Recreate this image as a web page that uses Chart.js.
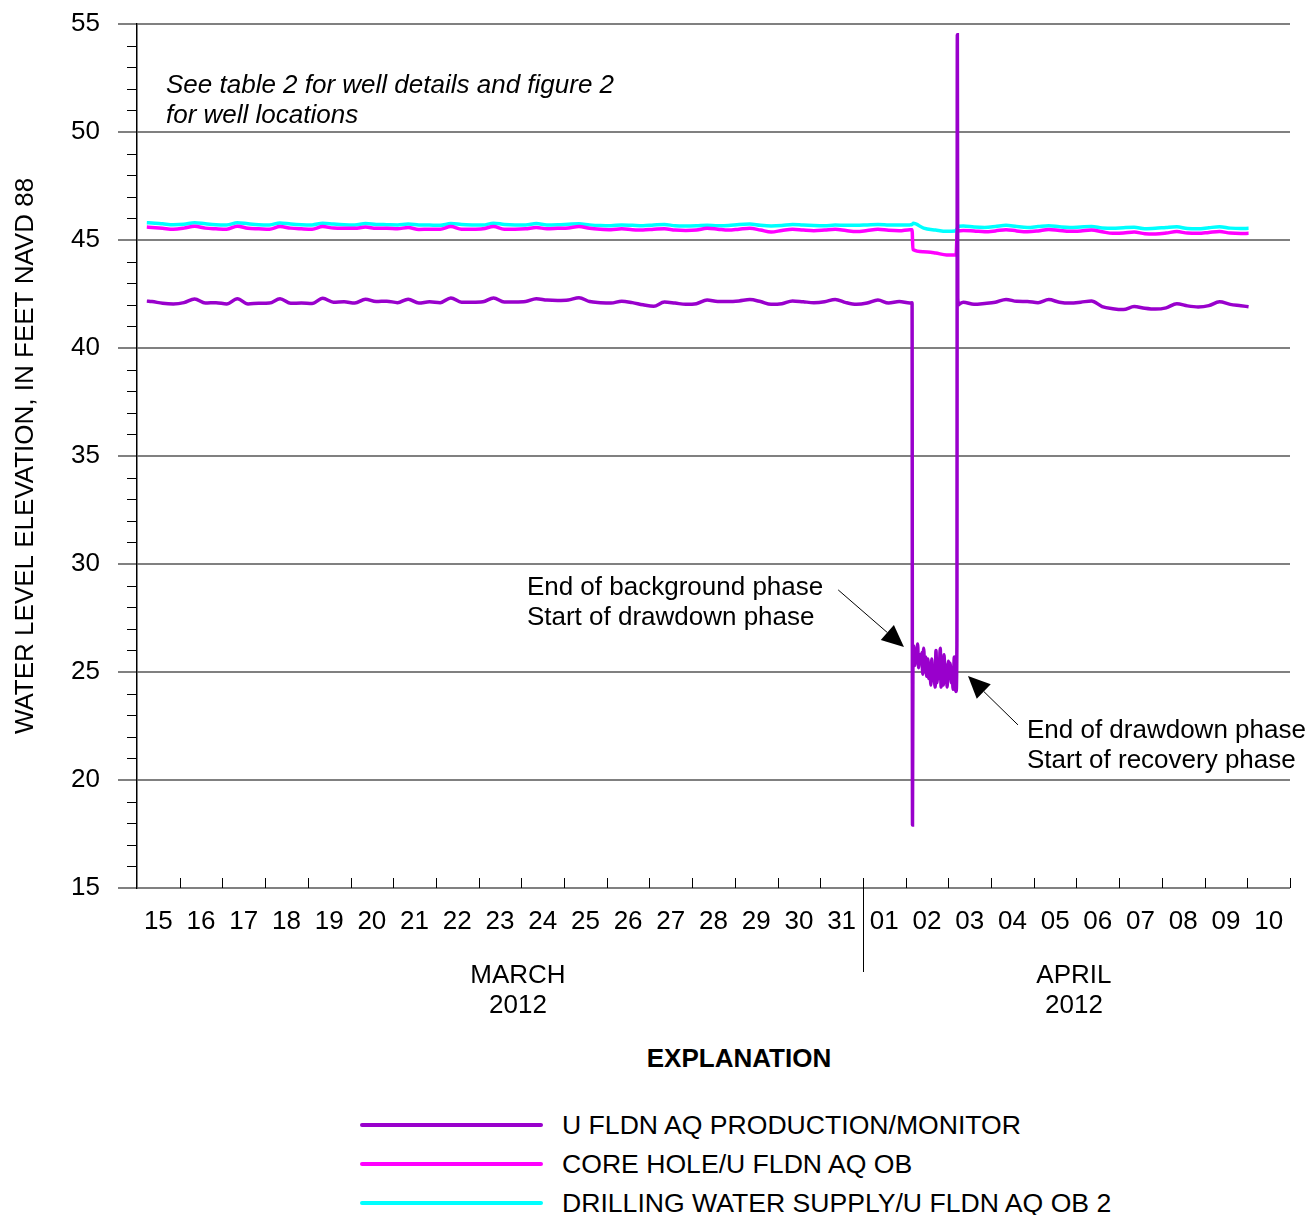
<!DOCTYPE html>
<html>
<head>
<meta charset="utf-8">
<title>Water levels, March-April 2012</title>
<script src="https://cdn.jsdelivr.net/npm/chart.js@4.4.1/dist/chart.umd.min.js"></script>
<style>
  body { margin: 0; background: #fff; font-family: "Liberation Sans", Arial, sans-serif; color: #000; }
  #page { position: relative; width: 1315px; height: 1215px; overflow: hidden; }
  #chartBox { position: absolute; left: 0; top: 0; }
  #legendTitle { position: absolute; left: 539px; width: 400px; top: 1043px; text-align: center;
                 font-weight: bold; font-size: 26px; line-height: 30px; }
  .legendRow { position: absolute; left: 360px; height: 30px; display: flex; align-items: center;
               font-size: 26.6px; white-space: nowrap; }
  .legendRow .swatch { width: 183px; height: 4px; margin-right: 19px; border-radius: 2px; }
</style>
</head>
<body>
<div id="page">
  <canvas id="chartBox" width="1315" height="1040"></canvas>
  <div id="legendTitle">EXPLANATION</div>
  <div id="legendRows"></div>
</div>
<script>
// day labels, one per day from March 15 to April 10
const xTickLabels = ['15', '16', '17', '18', '19', '20', '21', '22', '23', '24', '25', '26', '27', '28', '29', '30', '31',
                     '01', '02', '03', '04', '05', '06', '07', '08', '09', '10'];
const monthLabels = ['MARCH', 'APRIL'];
const yearLabel = '2012';

const seriesNames = ['U FLDN AQ PRODUCTION/MONITOR', 'CORE HOLE/U FLDN AQ OB', 'DRILLING WATER SUPPLY/U FLDN AQ OB 2'];
const seriesColors = ['#9900CC', '#FF00FF', '#00FFFF'];

// times are days since March 15 00:00
const preDays = [0.23, 0.35, 0.6, 0.85,
  1.1, 1.35, 1.6, 1.85, 2.1, 2.35, 2.6, 2.85, 3.1, 3.35, 3.6, 3.85, 4.1, 4.35, 4.6, 4.85,
  5.1, 5.35, 5.6, 5.85, 6.1, 6.35, 6.6, 6.85, 7.1, 7.35, 7.6, 7.85, 8.1, 8.35, 8.6, 8.85,
  9.1, 9.35, 9.6, 9.85, 10.1, 10.35, 10.6, 10.85, 11.1, 11.35, 11.6, 11.85, 12.1, 12.35, 12.6, 12.85,
  13.1, 13.35, 13.6, 13.85, 14.1, 14.35, 14.6, 14.85, 15.1, 15.35, 15.6, 15.85, 16.1, 16.35, 16.6, 16.85,
  17.1, 17.35, 17.6, 17.85, 18.1];
const postDays = [19.35, 19.6, 19.85, 20.1, 20.35, 20.6, 20.85, 21.1, 21.35, 21.6, 21.85,
  22.1, 22.35, 22.6, 22.85, 23.1, 23.35, 23.6, 23.85, 24.1, 24.35, 24.6, 24.85,
  25.1, 25.35, 25.6, 25.85, 26.03];

// U FLDN AQ PRODUCTION/MONITOR
const prodPre = [42.17, 42.15, 42.07, 42.04,
  42.10, 42.27, 42.08, 42.10, 42.04, 42.28, 42.04, 42.07, 42.08, 42.28, 42.07, 42.08, 42.06, 42.30, 42.12, 42.14,
  42.08, 42.26, 42.15, 42.17, 42.10, 42.26, 42.08, 42.14, 42.10, 42.32, 42.12, 42.12, 42.14, 42.32, 42.13, 42.13,
  42.15, 42.28, 42.22, 42.20, 42.22, 42.33, 42.15, 42.10, 42.08, 42.17, 42.10, 42.00, 41.93, 42.13, 42.08, 42.02,
  42.05, 42.22, 42.15, 42.15, 42.18, 42.24, 42.15, 42.02, 42.05, 42.18, 42.14, 42.10, 42.14, 42.25, 42.10, 42.02,
  42.08, 42.22, 42.08, 42.15, 42.08];
const prodPumpDays = [18.15, 18.16, 18.17, 18.19, 18.21, 18.23, 18.26, 18.28, 18.3, 18.33, 18.35, 18.38,
  18.4, 18.42, 18.45, 18.47, 18.49, 18.52, 18.54, 18.57, 18.59, 18.61, 18.64, 18.66, 18.69,
  18.71, 18.73, 18.76, 18.78, 18.81, 18.83, 18.85, 18.88, 18.9, 18.92, 18.95, 18.97,
  19.0, 19.02, 19.04, 19.07, 19.09, 19.11, 19.14, 19.16, 19.18, 19.2, 19.21, 19.22, 19.24, 19.27];
const prodPump = [42.10, 17.92, 25.6, 26.2, 25.3, 26.0, 25.5, 26.3, 25.2, 25.8, 25.4, 25.9,
  24.9, 26.1, 25.0, 25.7, 24.8, 25.6, 24.7, 25.3, 24.4, 25.6, 24.6, 25.2, 24.3,
  26.0, 24.5, 25.2, 24.7, 26.1, 24.3, 25.0, 24.4, 25.8, 24.6, 25.3, 24.3,
  25.5, 24.8, 25.4, 24.5, 25.1, 24.2, 25.7, 24.5, 24.1, 26.3, 54.5, 42.3, 42.0, 42.05];
const prodPost = [42.12, 42.02, 42.06, 42.12, 42.25, 42.16, 42.15, 42.10, 42.24, 42.12, 42.08,
  42.12, 42.18, 41.92, 41.82, 41.78, 41.92, 41.84, 41.80, 41.86, 42.05, 41.95, 41.90,
  41.96, 42.14, 42.02, 41.96, 41.91];

// CORE HOLE/U FLDN AQ OB
const corePre = [45.60, 45.58, 45.54, 45.50,
  45.55, 45.64, 45.55, 45.52, 45.50, 45.64, 45.54, 45.52, 45.50, 45.62, 45.55, 45.52, 45.50, 45.62, 45.55, 45.54,
  45.54, 45.60, 45.54, 45.54, 45.52, 45.58, 45.49, 45.50, 45.50, 45.62, 45.50, 45.50, 45.52, 45.62, 45.50, 45.50,
  45.52, 45.58, 45.52, 45.54, 45.56, 45.62, 45.54, 45.50, 45.48, 45.52, 45.48, 45.46, 45.50, 45.52, 45.46, 45.44,
  45.46, 45.54, 45.50, 45.46, 45.50, 45.54, 45.46, 45.37, 45.44, 45.50, 45.46, 45.43, 45.46, 45.50, 45.44, 45.39,
  45.44, 45.50, 45.45, 45.43, 45.48];
const corePumpDays = [18.15, 18.17, 18.41, 18.7, 18.96, 19.18, 19.21];
const corePump = [45.48, 44.56, 44.46, 44.40, 44.31, 44.31, 45.42];
const corePost = [45.44, 45.42, 45.38, 45.42, 45.48, 45.42, 45.38, 45.42, 45.49, 45.44, 45.40,
  45.42, 45.46, 45.38, 45.31, 45.32, 45.37, 45.29, 45.28, 45.32, 45.39, 45.32, 45.31,
  45.35, 45.39, 45.32, 45.30, 45.31];

// DRILLING WATER SUPPLY/U FLDN AQ OB 2
const supplyPre = [45.80, 45.79, 45.75, 45.71,
  45.73, 45.80, 45.75, 45.71, 45.70, 45.80, 45.75, 45.71, 45.70, 45.79, 45.74, 45.71, 45.70, 45.78, 45.74, 45.71,
  45.70, 45.76, 45.72, 45.71, 45.70, 45.74, 45.70, 45.69, 45.68, 45.76, 45.72, 45.70, 45.69, 45.78, 45.72, 45.70,
  45.70, 45.76, 45.70, 45.71, 45.73, 45.75, 45.70, 45.67, 45.66, 45.70, 45.68, 45.66, 45.70, 45.72, 45.66, 45.65,
  45.66, 45.68, 45.66, 45.67, 45.72, 45.74, 45.68, 45.65, 45.67, 45.72, 45.69, 45.67, 45.66, 45.69, 45.68, 45.68,
  45.70, 45.72, 45.70, 45.69, 45.70];
const supplyPumpDays = [18.15, 18.18, 18.42, 18.7, 18.96, 19.16, 19.25];
const supplyPump = [45.72, 45.77, 45.55, 45.46, 45.40, 45.42, 45.64];
const supplyPost = [45.65, 45.60, 45.58, 45.62, 45.68, 45.62, 45.58, 45.62, 45.66, 45.61, 45.58,
  45.60, 45.62, 45.56, 45.54, 45.57, 45.59, 45.52, 45.54, 45.58, 45.61, 45.53, 45.52,
  45.57, 45.61, 45.55, 45.53, 45.54];

function toPoints(days, values) {
  return days.map((d, i) => ({ x: d, y: values[i] }));
}

function series(pre, pumpDays, pump, post) {
  return toPoints(preDays, pre).concat(toPoints(pumpDays, pump), toPoints(postDays, post));
}

const allSeries = [
  series(prodPre, prodPumpDays, prodPump, prodPost),
  series(corePre, corePumpDays, corePump, corePost),
  series(supplyPre, supplyPumpDays, supplyPump, supplyPost)
];

const FONT = '"Liberation Sans", Arial, sans-serif';
Chart.defaults.font.family = FONT;
Chart.defaults.color = '#000';

function drawArrow(ctx, x1, y1, x2, y2) {
  const ang = Math.atan2(y2 - y1, x2 - x1);
  const len = 22, half = 10;
  const bx = x2 - len * Math.cos(ang);
  const by = y2 - len * Math.sin(ang);
  ctx.beginPath();
  ctx.moveTo(x1, y1);
  ctx.lineTo(bx, by);
  ctx.lineWidth = 1;
  ctx.stroke();
  ctx.beginPath();
  ctx.moveTo(x2, y2);
  ctx.lineTo(bx - half * Math.sin(ang), by + half * Math.cos(ang));
  ctx.lineTo(bx + half * Math.sin(ang), by - half * Math.cos(ang));
  ctx.closePath();
  ctx.fill();
}

// minor ticks, day ticks, month labels and the notes
const decorations = {
  id: 'decorations',
  afterDraw(chart) {
    const { ctx, chartArea: area, scales } = chart;
    const px = d => scales.x.getPixelForValue(d);
    const py = v => scales.y.getPixelForValue(v);
    ctx.save();
    ctx.strokeStyle = '#000';
    ctx.fillStyle = '#000';
    ctx.lineWidth = 1;
    ctx.beginPath();
    for (let v = 16; v < 55; v++) {
      if (v % 5 === 0) continue;
      const y = Math.round(py(v)) + 0.5;
      ctx.moveTo(area.left - 10, y);
      ctx.lineTo(area.left, y);
    }
    for (let d = 1; d <= 27; d++) {
      const x = Math.round(px(d)) + 0.5;
      ctx.moveTo(x, area.bottom - 10);
      ctx.lineTo(x, d === 17 ? area.bottom + 84 : area.bottom);
    }
    ctx.stroke();

    ctx.font = '26px ' + FONT;
    ctx.textAlign = 'center';
    ctx.textBaseline = 'middle';
    [8.92, 21.94].forEach((c, i) => {
      ctx.fillText(monthLabels[i], px(c), area.bottom + 88);
      ctx.fillText(yearLabel, px(c), area.bottom + 118);
    });

    ctx.textAlign = 'left';
    ctx.font = 'italic 26px ' + FONT;
    ctx.fillText('See table 2 for well details and figure 2', area.left + 29, area.top + 62);
    ctx.fillText('for well locations', area.left + 29, area.top + 92);

    ctx.font = '26px ' + FONT;
    ctx.fillText('End of background phase', px(9.13), py(28.89));
    ctx.fillText('Start of drawdown phase', px(9.13), py(27.5));
    ctx.fillText('End of drawdown phase', px(20.84), py(22.27));
    ctx.fillText('Start of recovery phase', px(20.84), py(20.88));

    drawArrow(ctx, px(16.42), py(28.8), px(17.96), py(26.16));
    drawArrow(ctx, px(20.63), py(22.55), px(19.46), py(24.81));
    ctx.restore();
  }
};

new Chart(document.getElementById('chartBox'), {
  type: 'line',
  data: {
    datasets: allSeries.map((pts, i) => ({
      label: seriesNames[i],
      data: pts,
      borderColor: seriesColors[i],
      backgroundColor: seriesColors[i],
      borderWidth: 3.5,
      pointRadius: 0,
      cubicInterpolationMode: 'monotone',
      fill: false
    }))
  },
  options: {
    responsive: false,
    animation: false,
    layout: { padding: { top: 24, right: 25, bottom: 0, left: 0 } },
    plugins: {
      legend: { display: false },
      tooltip: { enabled: false }
    },
    scales: {
      x: {
        type: 'linear',
        min: 0,
        max: 27,
        grid: { display: false, drawTicks: false },
        border: { display: false },
        ticks: {
          stepSize: 0.5,
          autoSkip: false,
          maxRotation: 0,
          minRotation: 0,
          padding: 18,
          font: { size: 26 },
          callback: v => Number.isInteger(v) ? '' : xTickLabels[Math.floor(v)]
        },
        afterFit: s => { s.height = 152; s.paddingLeft = 0; s.paddingRight = 0; }
      },
      y: {
        min: 15,
        max: 55,
        grid: { color: '#808080', lineWidth: 2, tickLength: 19, tickColor: '#808080' },
        border: { display: true, color: '#000', width: 1.5 },
        ticks: { stepSize: 5, padding: 18, font: { size: 26 } },
        title: {
          display: true,
          text: 'WATER LEVEL ELEVATION, IN FEET NAVD 88',
          font: { size: 26 },
          padding: { top: 10, bottom: 0 }
        },
        afterFit: s => { s.width = 137; s.paddingTop = 0; s.paddingBottom = 0; }
      }
    }
  },
  plugins: [decorations]
});

// legend below the chart
const rows = document.getElementById('legendRows');
seriesNames.forEach((name, i) => {
  const row = document.createElement('div');
  row.className = 'legendRow';
  row.style.top = (1110 + i * 39) + 'px';
  const sw = document.createElement('span');
  sw.className = 'swatch';
  sw.style.background = seriesColors[i];
  const txt = document.createElement('span');
  txt.textContent = name;
  row.appendChild(sw);
  row.appendChild(txt);
  rows.appendChild(row);
});
</script>
</body>
</html>
